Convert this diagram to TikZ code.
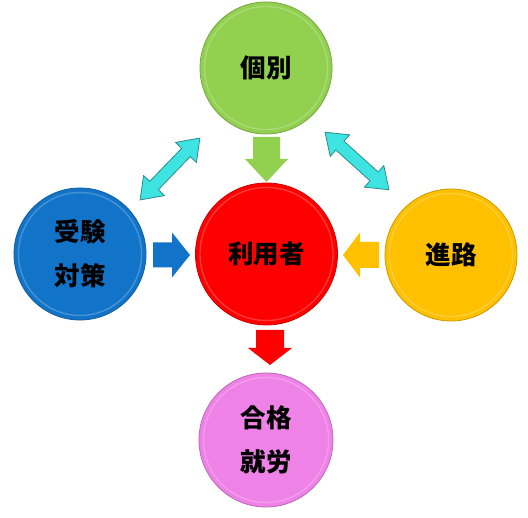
\documentclass[tikz,border=0pt]{standalone}
\usepackage{fontspec}
\newfontfamily\cjk{Noto Sans CJK JP}
\definecolor{cgreen}{HTML}{92D050}
\definecolor{cred}{HTML}{FF0000}
\definecolor{cblue}{HTML}{1274C8}
\definecolor{cyellow}{HTML}{FFC000}
\definecolor{cpink}{HTML}{EE82E6}
\definecolor{ccyan}{HTML}{3EE4E2}
\definecolor{ccyanline}{HTML}{2E8C8C}
\tikzset{
  lbl/.style={font=\cjk\bfseries\fontsize{25.5}{44}\selectfont, align=center, text=black},
  ball/.style 2 args={circle, inner sep=0pt, minimum size={2*#1}, fill=#2,
    draw=#2!80!black, line width=0.8pt, lbl,
    path picture={
      \draw[#2!60!white, line width=1.4pt, opacity=0.55]
        (path picture bounding box.center) circle ({#1-4.5});
    }},
  pics/blockarr/.style n args={5}{code={
    \fill[#5] (0,{-#2/2}) -- ({#1-#4},{-#2/2}) -- ({#1-#4},{-#3/2}) -- (#1,0)
      -- ({#1-#4},{#3/2}) -- ({#1-#4},{#2/2}) -- (0,{#2/2}) -- cycle;}},
  pics/dblarr/.style n args={4}{code={
    \filldraw[fill=ccyan, draw=ccyanline, line width=0.8pt, line join=miter]
      ({-#1/2},0) -- ({-#1/2+#4},{#3/2}) -- ({-#1/2+#4},{#2/2}) -- ({#1/2-#4},{#2/2})
      -- ({#1/2-#4},{#3/2}) -- ({#1/2},0) -- ({#1/2-#4},{-#3/2}) -- ({#1/2-#4},{-#2/2})
      -- ({-#1/2+#4},{-#2/2}) -- ({-#1/2+#4},{-#3/2}) -- cycle;}}
}
\begin{document}
\begin{tikzpicture}[x=1pt,y=1pt]
\useasboundingbox (0,0) rectangle (528,518);
\fill[white] (0,0) rectangle (528,518);

% connectors (block arrows)
\coordinate (gtail) at (266.5,381);
\coordinate (rtail) at (270,188);
\coordinate (btail) at (153,263);
\coordinate (ytail) at (379,263);
\coordinate (lmid) at (170,349);
\coordinate (rmid) at (357,357);

\pic[rotate=-90] at (gtail) {blockarr={45}{27}{43}{23}{cgreen}};
\pic[rotate=-90] at (rtail) {blockarr={35}{28}{44}{17}{cred}};
\pic at (btail) {blockarr={37}{25}{45}{18}{cblue}};
\pic[rotate=180] at (ytail) {blockarr={36}{26}{45}{17}{cyellow}};
\pic[rotate=46] at (lmid) {dblarr={86}{12}{29}{20}};
\pic[rotate=-42] at (rmid) {dblarr={86}{12}{29}{20}};

% circles
\node[ball={66}{cgreen}] (kobetsu) at (266,450) {個別};
\node[ball={71}{cred}] (user) at (266.5,264) {利用者};
\node[ball={66}{cblue}] (juken) at (80,264) {受験\\対策};
\node[ball={66}{cyellow}] (shinro) at (451,263) {進路};
\node[ball={67}{cpink}] (goukaku) at (266,78) {合格\\就労};
\end{tikzpicture}
\end{document}
